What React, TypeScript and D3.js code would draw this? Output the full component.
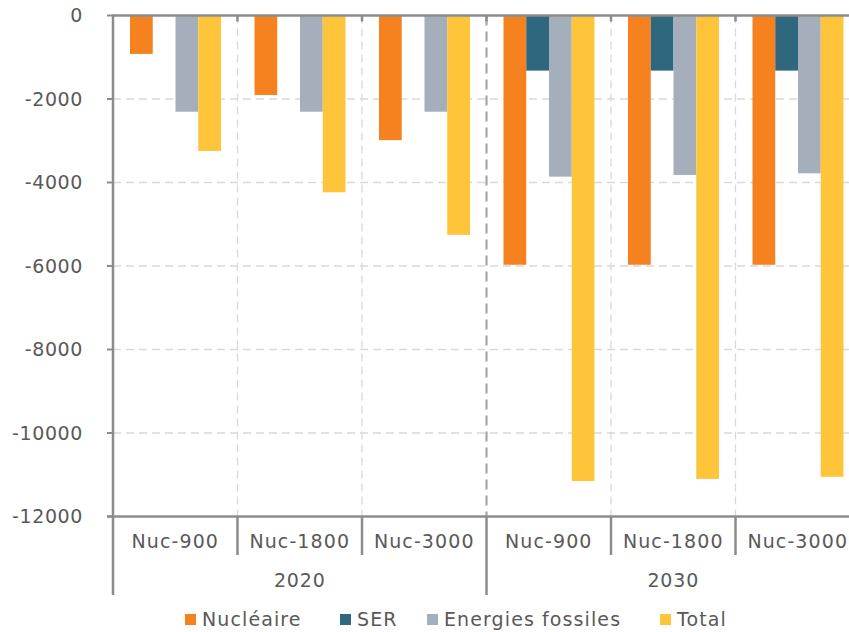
import React from "react";
import * as d3 from "d3";

const years = ["2020", "2030"];
const scenarios = ["Nuc-900", "Nuc-1800", "Nuc-3000"];
const seriesNames = ["Nucléaire", "SER", "Energies fossiles", "Total"];
const seriesColors = ["#F5821F", "#2E677E", "#A5AFBC", "#FFC53A"];
// values per category (2020 Nuc-900, 2020 Nuc-1800, 2020 Nuc-3000, 2030 ...)
const nucleaire = [-920, -1905, -2985, -5970, -5970, -5970];
const ser = [0, 0, 0, -1320, -1320, -1320];
const fossiles = [-2305, -2305, -2305, -3860, -3820, -3780];
const total = [-3245, -4235, -5255, -11150, -11100, -11050];
const yTicks = [0, -2000, -4000, -6000, -8000, -10000, -12000];

const W = 849;
const H = 632;
const FONT = "'DejaVu Sans', sans-serif";
const TXT = "#595959";
const AX = "#8C8C8C";

export default function App() {
  const series = [nucleaire, ser, fossiles, total];
  const cats = years.flatMap((y) => scenarios.map((s) => `${y}|${s}`));
  const left = 113;
  const catW = 124.5;
  const x = d3.scaleBand<string>().domain(cats).range([left, left + catW * cats.length]);
  const groupPad = 17;
  const xs = d3
    .scaleBand<string>()
    .domain(seriesNames)
    .range([groupPad, catW - groupPad + 0.5]);
  const y = d3.scaleLinear().domain([0, -12000]).range([15.5, 516.5]);
  const right = left + catW * cats.length;
  const bottom = y(-12000);
  const boundaries = cats.slice(1).map((c) => x(c)!);
  const yearStart = (i: number) => x(cats[i * scenarios.length])!;
  const yearEnd = (i: number) => yearStart(i) + catW * scenarios.length;

  const legendX = [185, 340, 427, 660];

  return (
    <svg
      width={W}
      height={H}
      style={{ position: "absolute", left: 0, top: 0, background: "#fff" }}
      fontFamily={FONT}
    >
      {/* horizontal gridlines */}
      {yTicks.slice(1, -1).map((t) => (
        <line
          key={"h" + t}
          x1={left}
          x2={right}
          y1={y(t)}
          y2={y(t)}
          stroke="#D9D9D9"
          strokeWidth={1.3}
          strokeDasharray="8,5"
        />
      ))}
      {/* vertical gridlines */}
      {boundaries.map((bx, i) => {
        const major = (i + 1) % scenarios.length === 0;
        return (
          <line
            key={"v" + i}
            x1={bx}
            x2={bx}
            y1={y(0)}
            y2={bottom}
            stroke={major ? "#A6A6A6" : "#D9D9D9"}
            strokeWidth={major ? 2.2 : 1.3}
            strokeDasharray={major ? "10,6" : "8,5"}
          />
        );
      })}
      {/* bars */}
      {cats.map((c, ci) => (
        <g key={c} transform={`translate(${x(c)},0)`}>
          {series.map((vals, si) => {
            const v = vals[ci];
            if (v === 0) return null;
            return (
              <rect
                key={si}
                x={xs(seriesNames[si])}
                width={xs.bandwidth()}
                y={y(0)}
                height={y(v) - y(0)}
                fill={seriesColors[si]}
              />
            );
          })}
        </g>
      ))}
      {/* axes */}
      <line x1={left} x2={right} y1={y(0)} y2={y(0)} stroke={AX} strokeWidth={2.5} />
      {boundaries.map((bx, i) => (
        <line key={"tt" + i} x1={bx} x2={bx} y1={y(0)} y2={y(0) + 6} stroke={AX} strokeWidth={2.5} />
      ))}
      <line x1={left} x2={left} y1={y(0) - 1} y2={595} stroke={AX} strokeWidth={2.5} />
      <line x1={left - 6} x2={right} y1={bottom} y2={bottom} stroke={AX} strokeWidth={2.5} />
      {yTicks.map((t) => (
        <g key={"yt" + t}>
          <line x1={left - 6} x2={left} y1={y(t)} y2={y(t)} stroke={AX} strokeWidth={2} />
          <text
            x={83}
            y={y(t)}
            dy="0.36em"
            textAnchor="end"
            fontSize={19}
            fill={TXT}
            letterSpacing={0.6}
          >
            {t}
          </text>
        </g>
      ))}
      {/* category separators */}
      {boundaries.map((bx, i) => {
        const major = (i + 1) % scenarios.length === 0;
        return (
          <line
            key={"cs" + i}
            x1={bx}
            x2={bx}
            y1={bottom}
            y2={major ? 595 : 555}
            stroke={AX}
            strokeWidth={2.5}
          />
        );
      })}
      {cats.map((c) => (
        <text
          key={"cl" + c}
          x={x(c)! + catW / 2}
          y={548}
          textAnchor="middle"
          fontSize={19}
          fill={TXT}
          letterSpacing={1.1}
        >
          {c.split("|")[1]}
        </text>
      ))}
      {years.map((yr, i) => (
        <text
          key={"yr" + yr}
          x={(yearStart(i) + yearEnd(i)) / 2}
          y={587}
          textAnchor="middle"
          fontSize={19}
          fill={TXT}
          letterSpacing={0.8}
        >
          {yr}
        </text>
      ))}
      {/* legend */}
      {seriesNames.map((s, i) => (
        <g key={"lg" + s} transform={`translate(${legendX[i]},0)`}>
          <rect x={0} y={614} width={11} height={11} fill={seriesColors[i]} />
          <text x={17} y={626} fontSize={19} fill={TXT} letterSpacing={1.1}>
            {s}
          </text>
        </g>
      ))}
    </svg>
  );
}
